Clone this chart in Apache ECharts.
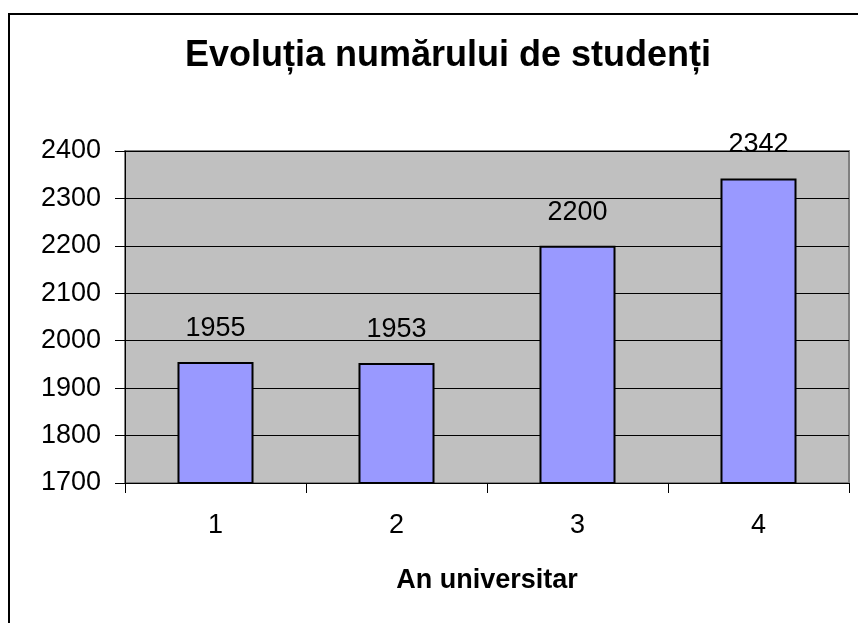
<!DOCTYPE html>
<html>
<head>
<meta charset="utf-8">
<script src="https://cdn.jsdelivr.net/npm/echarts@6/dist/echarts.min.js"></script>
<style>
  html, body { margin: 0; padding: 0; background: #fff; }
  #chart { width: 858px; height: 623px; }
</style>
</head>
<body>
<div id="chart"></div>
<script>
// datele graficului
const titlu = 'Evoluția numărului de studenți'
const aniUniversitari = ['1', '2', '3', '4']
const numarStudenti = [1955, 1953, 2200, 2342]
const axaXNume = 'An universitar'

const font = 'Arial, "Liberation Sans", sans-serif'

const myChart = echarts.init(document.getElementById('chart'))

myChart.setOption({
  backgroundColor: '#ffffff',
  animation: false,
  // chenarul exterior
  graphic: [
    {
      type: 'rect',
      z: -10,
      shape: { x: 9, y: 14, width: 900, height: 700 },
      style: { fill: 'none', stroke: '#000', lineWidth: 2 }
    }
  ],
  title: {
    text: titlu,
    left: 443,
    textAlign: 'center',
    top: 33,
    textStyle: { fontFamily: font, fontSize: 36, fontWeight: 'bold', color: '#000' }
  },
  grid: {
    left: 125,
    right: 9,
    top: 151,
    bottom: 140,
    show: true,
    backgroundColor: '#C0C0C0',
    borderColor: '#808080',
    borderWidth: 2
  },
  xAxis: {
    type: 'category',
    data: aniUniversitari,
    name: axaXNume,
    nameLocation: 'middle',
    nameGap: 84,
    nameTextStyle: { fontFamily: font, fontSize: 27, fontWeight: 'bold', color: '#000' },
    axisLine: { lineStyle: { color: '#000', width: 1 } },
    axisTick: { show: true, length: 10, lineStyle: { color: '#000' } },
    axisLabel: { fontFamily: font, fontSize: 27, color: '#000', margin: 29 }
  },
  yAxis: {
    type: 'value',
    min: 1700,
    max: 2400,
    interval: 100,
    axisLine: { show: true, lineStyle: { color: '#000', width: 1 } },
    axisTick: { show: true, length: 10, lineStyle: { color: '#000' } },
    splitLine: { show: true, lineStyle: { color: '#000', width: 1 } },
    axisLabel: {
      fontFamily: font,
      fontSize: 27,
      color: '#000',
      margin: 24,
      formatter: (v) => String(v)
    }
  },
  series: [
    {
      type: 'bar',
      data: numarStudenti,
      barWidth: '42%',
      itemStyle: { color: '#9999FF', borderColor: '#000', borderWidth: 2 },
      label: {
        show: true,
        position: 'top',
        distance: 20,
        fontFamily: font,
        fontSize: 27,
        color: '#000'
      }
    }
  ]
})
</script>
</body>
</html>
